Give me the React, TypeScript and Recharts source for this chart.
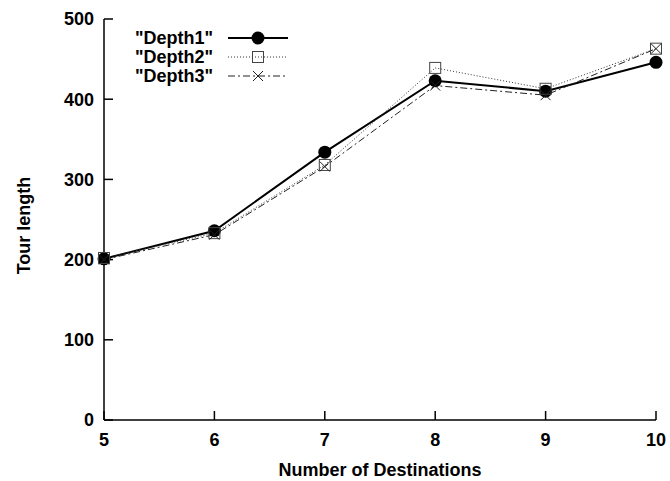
import { LineChart, Line, XAxis, YAxis, Legend } from "recharts";

const destinations = [5, 6, 7, 8, 9, 10];
const depth1 = [201, 236, 334, 423, 410, 446];
const depth2 = [202, 233, 318, 439, 413, 463];
const depth3 = [200, 231, 316, 417, 405, 463];
const yTicks = [0, 100, 200, 300, 400, 500];

const data = destinations.map((x, i) => ({
  x,
  depth1: depth1[i],
  depth2: depth2[i],
  depth3: depth3[i],
}));

const FONT = "'Liberation Sans', Arial, Helvetica, sans-serif";
const tickStyle = { fontFamily: FONT, fontSize: 18, fontWeight: 700, fill: "#000" };

const Circle = ({ cx, cy }: any) => <circle cx={cx} cy={cy} r={6.5} fill="#000" />;
const Square = ({ cx, cy }: any) => (
  <rect x={cx - 5.5} y={cy - 5.5} width={11} height={11} fill="none" stroke="#444" strokeWidth={1} />
);
const Cross = ({ cx, cy }: any) => (
  <path d={`M${cx - 5},${cy - 5}L${cx + 5},${cy + 5}M${cx - 5},${cy + 5}L${cx + 5},${cy - 5}`} stroke="#222" strokeWidth={1} />
);

const series = [
  { key: "depth1", name: '"Depth1"', dash: undefined, width: 2, color: "#000", Mark: Circle },
  { key: "depth2", name: '"Depth2"', dash: "1 2", width: 1, color: "#333", Mark: Square },
  { key: "depth3", name: '"Depth3"', dash: "7 3 2 3", width: 1, color: "#222", Mark: Cross },
];

const GnuLegend = () => (
  <svg width={170} height={62}>
    {series.map((s, i) => {
      const y = 10 + i * 19;
      return (
        <g key={s.key}>
          <text x={83} y={y + 6} textAnchor="end" style={tickStyle}>{s.name}</text>
          <line x1={98} x2={158} y1={y} y2={y} stroke={s.color} strokeWidth={s.width} strokeDasharray={s.dash} />
          <s.Mark cx={128} cy={y} />
        </g>
      );
    })}
  </svg>
);

export default function App() {
  return (
    <div style={{ position: "absolute", left: 0, top: 0, width: 670, height: 481, background: "#fff" }}>
      <LineChart width={670} height={481} data={data} margin={{ top: 19, right: 14, bottom: 0, left: 0 }}>
        <XAxis
          dataKey="x"
          type="number"
          domain={[5, 10]}
          ticks={destinations}
          height={61}
          tickSize={-9}
          tickMargin={22}
          stroke="#000"
          tick={tickStyle}
          axisLine={{ stroke: "#000", strokeWidth: 1.5 }}
          tickLine={{ stroke: "#000", strokeWidth: 1.5 }}
          label={{ value: "Number of Destinations", position: "insideBottom", offset: 5, style: tickStyle }}
        />
        <XAxis
          xAxisId="top"
          orientation="top"
          dataKey="x"
          type="number"
          domain={[5, 10]}
          ticks={destinations}
          height={0}
          tickSize={-9}
          tick={false}
          axisLine={{ stroke: "#000", strokeWidth: 1.5 }}
          tickLine={{ stroke: "#000", strokeWidth: 1.5 }}
        />
        <YAxis
          type="number"
          domain={[0, 500]}
          ticks={yTicks}
          width={104}
          tickSize={-9}
          tickMargin={19}
          tick={tickStyle}
          axisLine={{ stroke: "#000", strokeWidth: 1.5 }}
          tickLine={{ stroke: "#000", strokeWidth: 1.5 }}
          label={{
            content: ({ viewBox }: any) => {
              const cx = viewBox.x + 30;
              const cy = viewBox.y + viewBox.height / 2 + 6;
              return (
                <text x={cx} y={cy} textAnchor="middle" transform={`rotate(-90, ${cx}, ${cy})`} style={tickStyle}>
                  Tour length
                </text>
              );
            },
          }}
        />
        <YAxis
          yAxisId="right"
          orientation="right"
          type="number"
          domain={[0, 500]}
          ticks={yTicks}
          width={0}
          tickSize={-9}
          tick={false}
          axisLine={{ stroke: "#000", strokeWidth: 1.5 }}
          tickLine={{ stroke: "#000", strokeWidth: 1.5 }}
        />
        <Legend
          layout="vertical"
          align="center"
          verticalAlign="middle"
          content={() => <GnuLegend />}
          wrapperStyle={{ position: "absolute", left: 130, top: 28, width: 170, height: 62 }}
        />
        {series.map((s) => (
          <Line
            key={s.key}
            dataKey={s.key}
            name={s.name}
            type="linear"
            stroke={s.color}
            strokeWidth={s.width}
            strokeDasharray={s.dash}
            isAnimationActive={false}
            dot={(p: any) => <s.Mark key={`${s.key}-${p.index}`} cx={p.cx} cy={p.cy} />}
            activeDot={false}
          />
        ))}
      </LineChart>
    </div>
  );
}
